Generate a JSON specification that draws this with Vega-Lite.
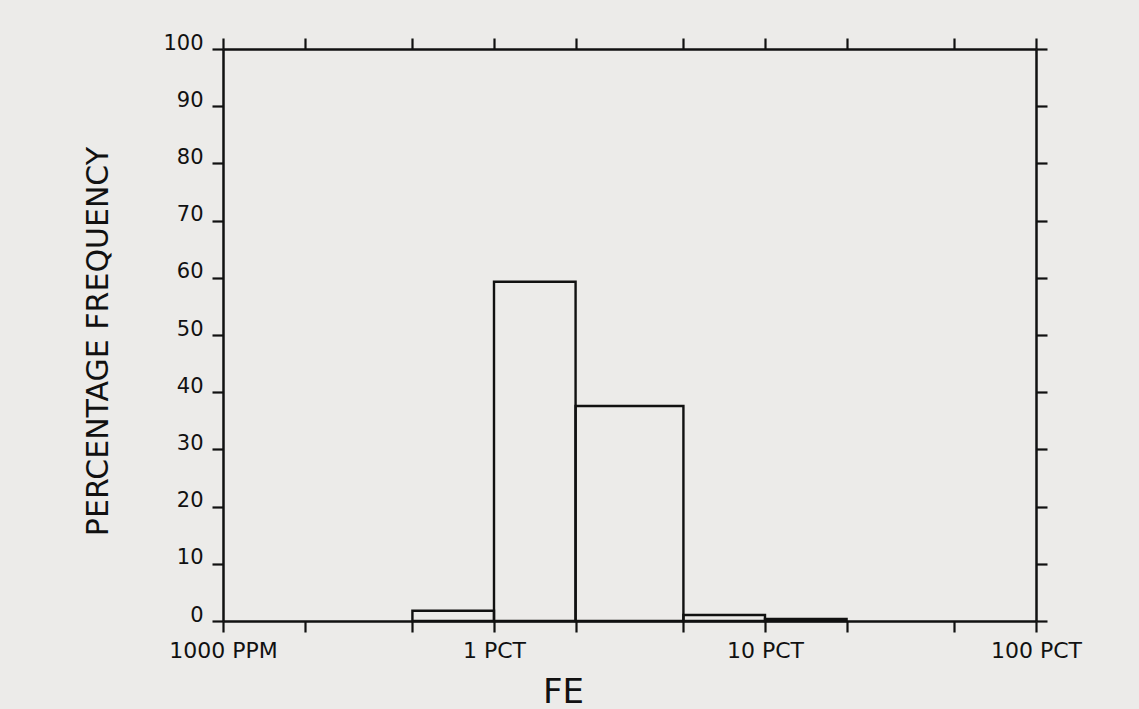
{
  "$schema": "https://vega.github.io/schema/vega-lite/v6.json",
  "autosize": "none",
  "width": 813,
  "height": 572,
  "padding": {"left": 223, "top": 49, "right": 103, "bottom": 88},
  "background": "#ecebe9",
  "config": {
    "view": {"stroke": null},
    "font": "DejaVu Sans",
    "axis": {
      "domainColor": "#111111",
      "domainWidth": 2.5,
      "tickColor": "#111111",
      "tickWidth": 2.2,
      "tickSize": 11,
      "grid": false,
      "labelColor": "#111111",
      "titleColor": "#111111",
      "labelFont": "DejaVu Sans",
      "titleFont": "DejaVu Sans",
      "labelFontSize": 22,
      "titleFontWeight": "normal"
    }
  },
  "data": {
    "values": [
      {"lo": 0.5, "hi": 1, "pct": 1.8},
      {"lo": 1, "hi": 2, "pct": 59.3},
      {"lo": 2, "hi": 5, "pct": 37.6},
      {"lo": 5, "hi": 10, "pct": 1.05},
      {"lo": 10, "hi": 20, "pct": 0.35}
    ]
  },
  "layer": [
    {
      "mark": {"type": "rect", "fill": null, "fillOpacity": 0, "stroke": "#111111", "strokeWidth": 2.4},
      "encoding": {
        "x": {
          "field": "lo", "type": "quantitative",
          "scale": {"type": "log", "domain": [0.1, 100], "nice": false},
          "axis": {
            "orient": "bottom",
            "values": [0.1, 0.2, 0.5, 1, 2, 5, 10, 20, 50, 100],
            "labelExpr": "datum.value == 0.1 ? '1000 PPM' : datum.value == 1 ? '1 PCT' : datum.value == 10 ? '10 PCT' : datum.value == 100 ? '100 PCT' : ''",
            "labelFontSize": 22,
            "labelPadding": 8,
            "labelBaseline": "top",
            "labelFlush": false,
            "labelOverlap": false,
            "title": "FE",
            "titleFontSize": 34,
            "titleX": 340,
            "titleY": 81,
            "titleAlign": "center",
            "titleBaseline": "alphabetic"
          }
        },
        "x2": {"field": "hi"},
        "y": {
          "field": "pct", "type": "quantitative",
          "scale": {"domain": [0, 100], "nice": false},
          "axis": {
            "orient": "left",
            "values": [0, 10, 20, 30, 40, 50, 60, 70, 80, 90, 100],
            "labelFontSize": 21,
            "labelBaseline": "alphabetic",
            "labelPadding": 9,
            "labelFlush": false,
            "labelOverlap": false,
            "title": "PERCENTAGE FREQUENCY",
            "titleFontSize": 30,
            "titleAngle": -90,
            "titleX": -116,
            "titleY": 292,
            "titleAlign": "center",
            "titleBaseline": "alphabetic"
          }
        },
        "y2": {"datum": 0}
      }
    },
    {
      "mark": {"type": "rect", "opacity": 0},
      "encoding": {
        "x": {
          "field": "lo", "type": "quantitative",
          "axis": {
            "orient": "top",
            "values": [0.1, 0.2, 0.5, 1, 2, 5, 10, 20, 50, 100],
            "labels": false,
            "title": null
          }
        },
        "x2": {"field": "hi"},
        "y": {
          "field": "pct", "type": "quantitative",
          "axis": {
            "orient": "right",
            "values": [0, 10, 20, 30, 40, 50, 60, 70, 80, 90, 100],
            "labels": false,
            "title": null
          }
        },
        "y2": {"datum": 0}
      }
    }
  ],
  "resolve": {"axis": {"x": "independent", "y": "independent"}}
}
